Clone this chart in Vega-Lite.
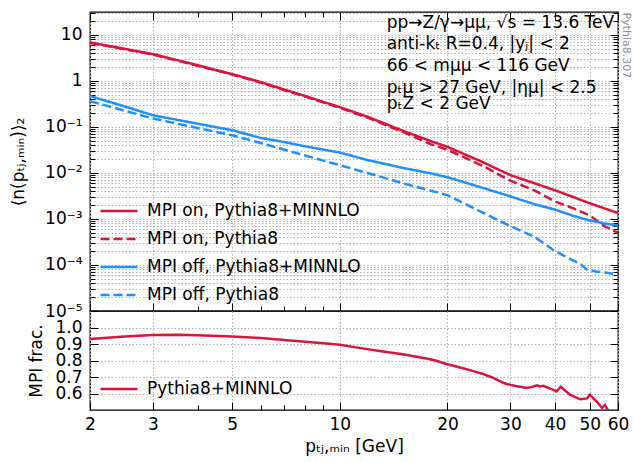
{
  "$schema": "https://vega.github.io/schema/vega-lite/v6.json",
  "autosize": {"type": "pad"},
  "padding": {"left": 8, "top": 10, "right": 0, "bottom": 8},
  "background": "white",
  "config": {
    "font": "DejaVu Sans",
    "view": {"stroke": "black", "strokeWidth": 1.3},
    "axis": {"domain": false, "labelFontSize": 17, "labelColor": "black", "titleFontSize": 17, "titleColor": "black", "titleFontWeight": "normal", "tickColor": "black", "tickWidth": 1, "gridColor": "#b3b3b3", "gridDash": [1.5, 2], "gridWidth": 1, "labelFlush": false, "labelOverlap": false},
    "legend": {"labelFontSize": 17, "labelColor": "black", "labelLimit": 400, "padding": 0, "symbolStrokeWidth": 2.5}
  },
  "spacing": 0,
  "bounds": "flush",
  "resolve": {"scale": {"color": "independent", "strokeDash": "independent", "y": "independent"}, "legend": {"color": "independent", "strokeDash": "independent"}},
  "vconcat": [
    {
      "width": 528,
      "height": 299,
      "resolve": {"axis": {"x": "independent", "y": "independent"}},
      "layer": [
        {
          "data": {"values": [
            {"s": "MPI on, Pythia8+MINNLO", "x": 2, "y": 6.9},
            {"s": "MPI on, Pythia8+MINNLO", "x": 2.5, "y": 5.0},
            {"s": "MPI on, Pythia8+MINNLO", "x": 3, "y": 3.85},
            {"s": "MPI on, Pythia8+MINNLO", "x": 4, "y": 2.2},
            {"s": "MPI on, Pythia8+MINNLO", "x": 5, "y": 1.41},
            {"s": "MPI on, Pythia8+MINNLO", "x": 6, "y": 0.95},
            {"s": "MPI on, Pythia8+MINNLO", "x": 7, "y": 0.65},
            {"s": "MPI on, Pythia8+MINNLO", "x": 8, "y": 0.47},
            {"s": "MPI on, Pythia8+MINNLO", "x": 10, "y": 0.27},
            {"s": "MPI on, Pythia8+MINNLO", "x": 12, "y": 0.165},
            {"s": "MPI on, Pythia8+MINNLO", "x": 15, "y": 0.083},
            {"s": "MPI on, Pythia8+MINNLO", "x": 18, "y": 0.049},
            {"s": "MPI on, Pythia8+MINNLO", "x": 20, "y": 0.037},
            {"s": "MPI on, Pythia8+MINNLO", "x": 25, "y": 0.0175},
            {"s": "MPI on, Pythia8+MINNLO", "x": 30, "y": 0.009},
            {"s": "MPI on, Pythia8+MINNLO", "x": 35, "y": 0.006},
            {"s": "MPI on, Pythia8+MINNLO", "x": 40, "y": 0.0042},
            {"s": "MPI on, Pythia8+MINNLO", "x": 45, "y": 0.003},
            {"s": "MPI on, Pythia8+MINNLO", "x": 50, "y": 0.0022},
            {"s": "MPI on, Pythia8+MINNLO", "x": 55, "y": 0.0017},
            {"s": "MPI on, Pythia8+MINNLO", "x": 60, "y": 0.00135},
            {"s": "MPI on, Pythia8", "x": 2, "y": 6.7},
            {"s": "MPI on, Pythia8", "x": 2.5, "y": 4.9},
            {"s": "MPI on, Pythia8", "x": 3, "y": 3.75},
            {"s": "MPI on, Pythia8", "x": 4, "y": 2.15},
            {"s": "MPI on, Pythia8", "x": 5, "y": 1.38},
            {"s": "MPI on, Pythia8", "x": 6, "y": 0.93},
            {"s": "MPI on, Pythia8", "x": 7, "y": 0.63},
            {"s": "MPI on, Pythia8", "x": 8, "y": 0.46},
            {"s": "MPI on, Pythia8", "x": 10, "y": 0.26},
            {"s": "MPI on, Pythia8", "x": 12, "y": 0.158},
            {"s": "MPI on, Pythia8", "x": 15, "y": 0.078},
            {"s": "MPI on, Pythia8", "x": 18, "y": 0.042},
            {"s": "MPI on, Pythia8", "x": 20, "y": 0.032},
            {"s": "MPI on, Pythia8", "x": 25, "y": 0.0145},
            {"s": "MPI on, Pythia8", "x": 30, "y": 0.0068},
            {"s": "MPI on, Pythia8", "x": 35, "y": 0.0042},
            {"s": "MPI on, Pythia8", "x": 40, "y": 0.0024},
            {"s": "MPI on, Pythia8", "x": 45, "y": 0.0017},
            {"s": "MPI on, Pythia8", "x": 50, "y": 0.0012},
            {"s": "MPI on, Pythia8", "x": 55, "y": 0.0007},
            {"s": "MPI on, Pythia8", "x": 60, "y": 0.0005},
            {"s": "MPI off, Pythia8+MINNLO", "x": 2, "y": 0.47},
            {"s": "MPI off, Pythia8+MINNLO", "x": 2.5, "y": 0.28},
            {"s": "MPI off, Pythia8+MINNLO", "x": 3, "y": 0.18},
            {"s": "MPI off, Pythia8+MINNLO", "x": 4, "y": 0.118},
            {"s": "MPI off, Pythia8+MINNLO", "x": 5, "y": 0.085},
            {"s": "MPI off, Pythia8+MINNLO", "x": 6, "y": 0.058},
            {"s": "MPI off, Pythia8+MINNLO", "x": 7, "y": 0.047},
            {"s": "MPI off, Pythia8+MINNLO", "x": 8, "y": 0.038},
            {"s": "MPI off, Pythia8+MINNLO", "x": 10, "y": 0.0278},
            {"s": "MPI off, Pythia8+MINNLO", "x": 12, "y": 0.019},
            {"s": "MPI off, Pythia8+MINNLO", "x": 15, "y": 0.0129},
            {"s": "MPI off, Pythia8+MINNLO", "x": 18, "y": 0.0098},
            {"s": "MPI off, Pythia8+MINNLO", "x": 20, "y": 0.0081},
            {"s": "MPI off, Pythia8+MINNLO", "x": 25, "y": 0.0048},
            {"s": "MPI off, Pythia8+MINNLO", "x": 30, "y": 0.0031},
            {"s": "MPI off, Pythia8+MINNLO", "x": 35, "y": 0.0021},
            {"s": "MPI off, Pythia8+MINNLO", "x": 40, "y": 0.0016},
            {"s": "MPI off, Pythia8+MINNLO", "x": 45, "y": 0.00117},
            {"s": "MPI off, Pythia8+MINNLO", "x": 50, "y": 0.00093},
            {"s": "MPI off, Pythia8+MINNLO", "x": 55, "y": 0.0008},
            {"s": "MPI off, Pythia8+MINNLO", "x": 60, "y": 0.00072},
            {"s": "MPI off, Pythia8", "x": 2, "y": 0.365},
            {"s": "MPI off, Pythia8", "x": 2.5, "y": 0.226},
            {"s": "MPI off, Pythia8", "x": 3, "y": 0.153},
            {"s": "MPI off, Pythia8", "x": 4, "y": 0.095},
            {"s": "MPI off, Pythia8", "x": 5, "y": 0.066},
            {"s": "MPI off, Pythia8", "x": 6, "y": 0.045},
            {"s": "MPI off, Pythia8", "x": 7, "y": 0.032},
            {"s": "MPI off, Pythia8", "x": 8, "y": 0.024},
            {"s": "MPI off, Pythia8", "x": 10, "y": 0.0148},
            {"s": "MPI off, Pythia8", "x": 12, "y": 0.0099},
            {"s": "MPI off, Pythia8", "x": 15, "y": 0.006},
            {"s": "MPI off, Pythia8", "x": 18, "y": 0.0041},
            {"s": "MPI off, Pythia8", "x": 20, "y": 0.0033},
            {"s": "MPI off, Pythia8", "x": 25, "y": 0.0014},
            {"s": "MPI off, Pythia8", "x": 30, "y": 0.0007},
            {"s": "MPI off, Pythia8", "x": 35, "y": 0.00041},
            {"s": "MPI off, Pythia8", "x": 40, "y": 0.0002},
            {"s": "MPI off, Pythia8", "x": 45, "y": 0.000125},
            {"s": "MPI off, Pythia8", "x": 47, "y": 0.000107},
            {"s": "MPI off, Pythia8", "x": 49, "y": 0.00008},
            {"s": "MPI off, Pythia8", "x": 52, "y": 0.000072},
            {"s": "MPI off, Pythia8", "x": 56, "y": 0.000068},
            {"s": "MPI off, Pythia8", "x": 60, "y": 0.00006}
          ]},
          "mark": {"type": "line", "strokeWidth": 2.5, "clip": true},
          "encoding": {
            "x": {"field": "x", "type": "quantitative", "scale": {"type": "log", "domain": [2, 60], "nice": false}, "axis": {"orient": "bottom", "title": null, "values": [2, 3, 5, 10, 20, 30, 40, 50, 60], "labels": false, "tickSize": -8, "grid": true}},
            "y": {"field": "y", "type": "quantitative", "scale": {"type": "log", "domain": [0.00001, 31.6], "nice": false}, "axis": {"orient": "left", "title": "⟨n(pₜⱼ,ₘᵢₙ)⟩₂", "values": [0.00001, 0.0001, 0.001, 0.01, 0.1, 1, 10], "tickSize": -8, "labelPadding": 16, "grid": true, "titlePadding": 17, "labelExpr": "datum.value >= 1 ? format(datum.value, 'd') : '10⁻' + ['⁰','¹','²','³','⁴','⁵'][round(-log(datum.value)/LN10)]"}},
            "color": {"field": "s", "type": "nominal", "scale": {"domain": ["MPI on, Pythia8+MINNLO", "MPI on, Pythia8", "MPI off, Pythia8+MINNLO", "MPI off, Pythia8"], "range": ["#dc143c", "#dc143c", "#1e90ff", "#1e90ff"]}, "legend": {"orient": "none", "legendX": 9, "legendY": 179, "title": null, "rowPadding": -12.7, "symbolSize": 1369, "labelOffset": 8}},
            "strokeDash": {"field": "s", "type": "nominal", "scale": {"domain": ["MPI on, Pythia8+MINNLO", "MPI on, Pythia8", "MPI off, Pythia8+MINNLO", "MPI off, Pythia8"], "range": [[1, 0], [9, 4], [1, 0], [9, 4]]}, "legend": {"orient": "none", "legendX": 9, "legendY": 179, "title": null, "rowPadding": -12.7, "symbolSize": 1369, "labelOffset": 8}}
          }
        },
        {
          "data": {"values": [
            {"x": 13.52, "y": 17.8, "t": "pp→Z/γ→μμ, √s = 13.6 TeV"},
            {"x": 13.52, "y": 6.23, "t": "anti-kₜ R=0.4, |yⱼ| < 2"},
            {"x": 13.52, "y": 2.11, "t": "66 < mμμ < 116 GeV"},
            {"x": 13.52, "y": 0.687, "t": "pₜμ > 27 GeV, |ημ| < 2.5"},
            {"x": 13.52, "y": 0.324, "t": "pₜZ < 2 GeV"}
          ]},
          "mark": {"type": "text", "align": "left", "baseline": "middle", "fontSize": 17, "color": "black"},
          "encoding": {
            "x": {"field": "x", "type": "quantitative", "scale": {"type": "log", "domain": [2, 60], "nice": false}, "axis": {"orient": "bottom", "title": null, "values": [4, 6, 7, 8, 9], "labels": false, "tickSize": -5, "grid": false}},
            "y": {"field": "y", "type": "quantitative", "scale": {"type": "log", "domain": [0.00001, 31.6], "nice": false}, "axis": {"orient": "left", "title": null, "labels": false, "tickSize": -5, "grid": true, "values": [0.00002, 0.00003, 0.00004, 0.00005, 0.00006, 0.00007, 0.00008, 0.00009, 0.0002, 0.0003, 0.0004, 0.0005, 0.0006, 0.0007, 0.0008, 0.0009, 0.002, 0.003, 0.004, 0.005, 0.006, 0.007, 0.008, 0.009, 0.02, 0.03, 0.04, 0.05, 0.06, 0.07, 0.08, 0.09, 0.2, 0.3, 0.4, 0.5, 0.6, 0.7, 0.8, 0.9, 2, 3, 4, 5, 6, 7, 8, 9, 20, 30]}},
            "text": {"field": "t"}
          }
        },
        {
          "data": {"values": [{"x": 10, "y": 1}]},
          "mark": {"type": "point", "opacity": 0},
          "encoding": {
            "x": {"field": "x", "type": "quantitative", "scale": {"type": "log", "domain": [2, 60], "nice": false}, "axis": {"orient": "top", "title": null, "values": [2, 3, 5, 10, 20, 30, 40, 50, 60], "labels": false, "tickSize": -8, "grid": false}},
            "y": {"field": "y", "type": "quantitative", "scale": {"type": "log", "domain": [0.00001, 31.6], "nice": false}, "axis": {"orient": "right", "title": "Pythia8.307", "titleAngle": 90, "titleAnchor": "end", "titleAlign": "left", "titleColor": "#909090", "titleFontSize": 11, "titlePadding": 2, "values": [0.00001, 0.0001, 0.001, 0.01, 0.1, 1, 10], "labels": false, "tickSize": -8, "grid": false}}
          }
        },
        {
          "data": {"values": [{"x": 10, "y": 1}]},
          "mark": {"type": "point", "opacity": 0},
          "encoding": {
            "x": {"field": "x", "type": "quantitative", "scale": {"type": "log", "domain": [2, 60], "nice": false}, "axis": {"orient": "top", "title": null, "values": [4, 6, 7, 8, 9], "labels": false, "tickSize": -5, "grid": false}},
            "y": {"field": "y", "type": "quantitative", "scale": {"type": "log", "domain": [0.00001, 31.6], "nice": false}, "axis": {"orient": "right", "title": null, "labels": false, "tickSize": -5, "grid": false, "values": [0.00002, 0.00003, 0.00004, 0.00005, 0.00006, 0.00007, 0.00008, 0.00009, 0.0002, 0.0003, 0.0004, 0.0005, 0.0006, 0.0007, 0.0008, 0.0009, 0.002, 0.003, 0.004, 0.005, 0.006, 0.007, 0.008, 0.009, 0.02, 0.03, 0.04, 0.05, 0.06, 0.07, 0.08, 0.09, 0.2, 0.3, 0.4, 0.5, 0.6, 0.7, 0.8, 0.9, 2, 3, 4, 5, 6, 7, 8, 9, 20, 30]}}
          }
        }
      ]
    },
    {
      "width": 528,
      "height": 99,
      "resolve": {"axis": {"x": "independent", "y": "independent"}},
      "layer": [
        {
          "data": {"values": [
            {"s": "Pythia8+MINNLO", "x": 2, "r": 0.93},
            {"s": "Pythia8+MINNLO", "x": 2.5, "r": 0.946},
            {"s": "Pythia8+MINNLO", "x": 3, "r": 0.954},
            {"s": "Pythia8+MINNLO", "x": 3.5, "r": 0.956},
            {"s": "Pythia8+MINNLO", "x": 4, "r": 0.953},
            {"s": "Pythia8+MINNLO", "x": 5, "r": 0.946},
            {"s": "Pythia8+MINNLO", "x": 6, "r": 0.936},
            {"s": "Pythia8+MINNLO", "x": 7, "r": 0.924},
            {"s": "Pythia8+MINNLO", "x": 8, "r": 0.913},
            {"s": "Pythia8+MINNLO", "x": 9, "r": 0.904},
            {"s": "Pythia8+MINNLO", "x": 10, "r": 0.895},
            {"s": "Pythia8+MINNLO", "x": 11.2, "r": 0.878},
            {"s": "Pythia8+MINNLO", "x": 13.2, "r": 0.854},
            {"s": "Pythia8+MINNLO", "x": 15, "r": 0.838},
            {"s": "Pythia8+MINNLO", "x": 17.6, "r": 0.81},
            {"s": "Pythia8+MINNLO", "x": 18.5, "r": 0.8},
            {"s": "Pythia8+MINNLO", "x": 20, "r": 0.777},
            {"s": "Pythia8+MINNLO", "x": 22, "r": 0.755},
            {"s": "Pythia8+MINNLO", "x": 23.5, "r": 0.737},
            {"s": "Pythia8+MINNLO", "x": 25, "r": 0.72},
            {"s": "Pythia8+MINNLO", "x": 26.7, "r": 0.697},
            {"s": "Pythia8+MINNLO", "x": 28, "r": 0.675},
            {"s": "Pythia8+MINNLO", "x": 29.1, "r": 0.659},
            {"s": "Pythia8+MINNLO", "x": 31, "r": 0.645},
            {"s": "Pythia8+MINNLO", "x": 33.4, "r": 0.633},
            {"s": "Pythia8+MINNLO", "x": 34.5, "r": 0.64},
            {"s": "Pythia8+MINNLO", "x": 35.6, "r": 0.649},
            {"s": "Pythia8+MINNLO", "x": 36.3, "r": 0.643},
            {"s": "Pythia8+MINNLO", "x": 37.1, "r": 0.647},
            {"s": "Pythia8+MINNLO", "x": 38.8, "r": 0.629},
            {"s": "Pythia8+MINNLO", "x": 40.4, "r": 0.613},
            {"s": "Pythia8+MINNLO", "x": 41.5, "r": 0.641},
            {"s": "Pythia8+MINNLO", "x": 44, "r": 0.593},
            {"s": "Pythia8+MINNLO", "x": 47, "r": 0.565},
            {"s": "Pythia8+MINNLO", "x": 49.2, "r": 0.57},
            {"s": "Pythia8+MINNLO", "x": 50, "r": 0.593},
            {"s": "Pythia8+MINNLO", "x": 52.5, "r": 0.548},
            {"s": "Pythia8+MINNLO", "x": 54.1, "r": 0.512},
            {"s": "Pythia8+MINNLO", "x": 55.2, "r": 0.53},
            {"s": "Pythia8+MINNLO", "x": 56.5, "r": 0.49},
            {"s": "Pythia8+MINNLO", "x": 58, "r": 0.45}
          ]},
          "mark": {"type": "line", "strokeWidth": 2.5, "clip": true},
          "encoding": {
            "x": {"field": "x", "type": "quantitative", "scale": {"type": "log", "domain": [2, 60], "nice": false}, "axis": {"orient": "bottom", "title": "pₜⱼ,ₘᵢₙ [GeV]", "values": [2, 3, 5, 10, 20, 30, 40, 50, 60], "format": "d", "tickSize": -8, "labelPadding": 14, "grid": true, "titlePadding": 6}},
            "y": {"field": "r", "type": "quantitative", "scale": {"domain": [0.5, 1.1], "nice": false, "zero": false}, "axis": {"orient": "left", "title": "MPI frac.", "values": [0.6, 0.7, 0.8, 0.9, 1.0], "format": ".1f", "tickSize": -8, "labelPadding": 16, "grid": true, "titlePadding": 9}},
            "color": {"field": "s", "type": "nominal", "scale": {"domain": ["Pythia8+MINNLO"], "range": ["#dc143c"]}, "legend": {"orient": "none", "legendX": 9, "legendY": 58, "title": null, "symbolSize": 1369, "labelOffset": 8}}
          }
        },
        {
          "data": {"values": [{"x": 10, "r": 0.8}]},
          "mark": {"type": "point", "opacity": 0},
          "encoding": {
            "x": {"field": "x", "type": "quantitative", "scale": {"type": "log", "domain": [2, 60], "nice": false}, "axis": {"orient": "bottom", "title": null, "values": [4, 6, 7, 8, 9], "labels": false, "tickSize": -5, "grid": false}},
            "y": {"field": "r", "type": "quantitative", "scale": {"domain": [0.5, 1.1], "nice": false, "zero": false}, "axis": {"orient": "right", "title": null, "values": [0.6, 0.7, 0.8, 0.9, 1.0], "labels": false, "tickSize": -8, "grid": false}}
          }
        }
      ]
    }
  ]
}
